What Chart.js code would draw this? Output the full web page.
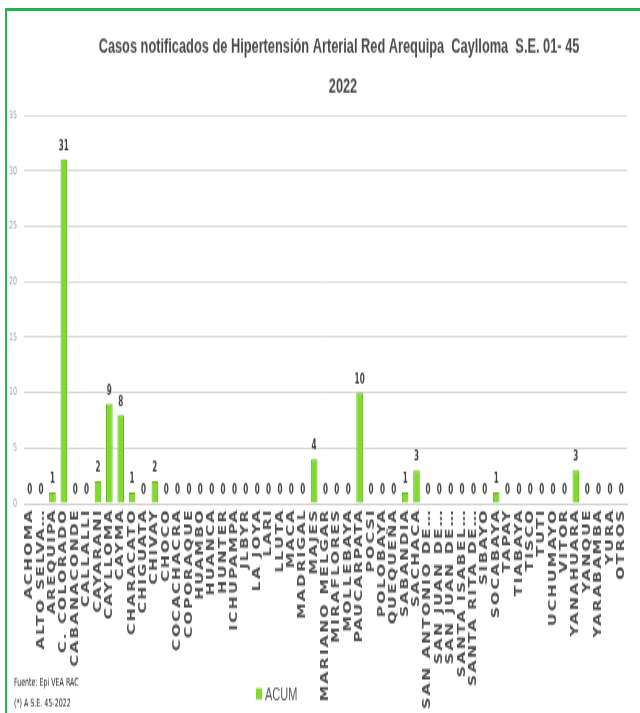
<!DOCTYPE html>
<html>
<head>
<meta charset="utf-8">
<script src="https://cdn.jsdelivr.net/npm/chart.js@4.4.0/dist/chart.umd.min.js"></script>
<style>
  html, body { margin: 0; padding: 0; background: #fff; }
  #wrap { position: relative; width: 640px; height: 713px; overflow: hidden; }
  #chart {
    position: absolute; left: 0; top: 0;
    width: 640px; height: 446px;
    transform: scaleY(1.5987); transform-origin: 0 0;
  }
  .frame {
    position: absolute; left: 5px; top: 8px; width: 700px; height: 800px;
    border-top: 3px solid #1bb652; border-left: 2px solid #1bb652;
  }
</style>
</head>
<body>
<div id="wrap">
  <canvas id="chart" width="640" height="446"></canvas>
  <div class="frame"></div>
</div>
<script>
const categories = [
  "ACHOMA", "ALTO SELVA…", "AREQUIPA", "C. COLORADO", "CABANACONDE",
  "CALLALLI", "CAYARANI", "CAYLLOMA", "CAYMA", "CHARACATO", "CHIGUATA",
  "CHIVAY", "CHOCO", "COCACHACRA", "COPORAQUE", "HUAMBO", "HUANCA",
  "HUNTER", "ICHUPAMPA", "JLBYR", "LA JOYA", "LARI", "LLUTA", "MACA",
  "MADRIGAL", "MAJES", "MARIANO MELGAR", "MIRAFLORES", "MOLLEBAYA",
  "PAUCARPATA", "POCSI", "POLOBAYA", "QUEQUEÑA", "SABANDIA", "SACHACA",
  "SAN ANTONIO DE…", "SAN JUAN DE…", "SAN JUAN DE…", "SANTA ISABEL…",
  "SANTA RITA DE…", "SIBAYO", "SOCABAYA", "TAPAY", "TIABAYA", "TISCO",
  "TUTI", "UCHUMAYO", "VITOR", "YANAHUARA", "YANQUE", "YARABAMBA", "YURA",
  "OTROS",
];
const acum = [
  0, 0, 1, 31, 0, 0, 2, 9, 8, 1, 0,
  2, 0, 0, 0, 0, 0, 0, 0, 0, 0, 0, 0, 0,
  0, 4, 0, 0, 0, 10, 0, 0, 0, 1, 3,
  0, 0, 0, 0, 0, 0, 1, 0, 0, 0,
  0, 0, 0, 3, 0, 0, 0, 0,
];
const yMax = 35;
const yStep = 5;
const titleLines = [
  "Casos notificados de Hipertensión Arterial Red Arequipa  Caylloma  S.E. 01- 45",
  "2022",
];
const notes = ["Fuente: Epi VEA RAC", "(*) A S.E. 45-2022"];

const barGreen = "#80db2c";

// the category names are letter-spaced in the original sheet
const axisSpacing = {
  id: "axisSpacing",
  beforeDraw(chart) {
    chart.ctx.letterSpacing = "1.2px";
  },
  beforeDatasetsDraw(chart) {
    chart.ctx.letterSpacing = "0px";
  },
};

// value labels above each bar
const valueLabels = {
  id: "valueLabels",
  afterDatasetsDraw(chart) {
    const { ctx } = chart;
    const meta = chart.getDatasetMeta(0);
    ctx.save();
    ctx.font = "bold 8px 'DejaVu Sans Condensed', 'DejaVu Sans', sans-serif";
    ctx.fillStyle = "#404040";
    ctx.textAlign = "center";
    ctx.textBaseline = "bottom";
    meta.data.forEach((bar, i) => {
      ctx.fillText(String(acum[i]), bar.x, bar.y - 4);
    });
    ctx.restore();
  },
};

// title, legend and footnotes placed like the original sheet
const sheetText = {
  id: "sheetText",
  afterDraw(chart) {
    const { ctx } = chart;
    ctx.save();
    ctx.fillStyle = "#4a4a4a";
    ctx.textAlign = "center";
    ctx.textBaseline = "middle";
    ctx.font = "bold 12.8px 'Liberation Sans', Arial, sans-serif";
    ctx.fillText(titleLines[0], 339, 29.5);
    ctx.fillText(titleLines[1], 343, 54.5);

    const ds = chart.data.datasets[0];
    ctx.fillStyle = ds.backgroundColor;
    ctx.fillRect(256, 430.5, 6, 7);
    ctx.fillStyle = "#595959";
    ctx.textAlign = "left";
    ctx.font = "11px 'Liberation Sans', Arial, sans-serif";
    ctx.fillText(ds.label, 265, 434.5);

    ctx.fillStyle = "#222";
    ctx.font = "7px 'Liberation Sans Narrow', 'DejaVu Sans Condensed', sans-serif";
    ctx.fillText(notes[0], 14, 427);
    ctx.fillText(notes[1], 14, 440.5);
    ctx.restore();
  },
};

const chartCanvas = document.getElementById("chart");
new Chart(chartCanvas, {
  type: "bar",
  data: {
    labels: categories,
    datasets: [
      {
        label: "ACUM",
        data: acum,
        backgroundColor: barGreen,
        borderColor: "#62b41a",
        borderWidth: 1,
        barPercentage: 0.58,
        categoryPercentage: 1,
      },
    ],
  },
  options: {
    responsive: false,
    animation: false,
    layout: { padding: { left: 8, right: 13, top: 72, bottom: 0 } },
    plugins: {
      legend: { display: false },
      tooltip: { enabled: false },
      title: { display: false },
    },
    scales: {
      x: {
        grid: { display: false, drawTicks: false },
        border: { color: "#d0d0d0" },
        ticks: {
          autoSkip: false,
          minRotation: 90,
          maxRotation: 90,
          padding: 3,
          color: "#4d4d4d",
          font: { family: "'DejaVu Sans', sans-serif", size: 10, weight: "bold" },
        },
        afterFit: (scale) => { scale.height = 131; },
      },
      y: {
        min: 0,
        max: yMax,
        grid: { color: "#d9d9d9", drawTicks: false },
        border: { display: false },
        ticks: {
          z: 1,
          stepSize: yStep,
          padding: 7,
          color: "#a0a0a0",
          font: { family: "'Liberation Sans Narrow', 'DejaVu Sans Condensed', sans-serif", size: 7 },
        },
        afterFit: (scale) => { scale.width = 16; },
      },
    },
  },
  plugins: [axisSpacing, valueLabels, sheetText],
});
</script>
</body>
</html>
